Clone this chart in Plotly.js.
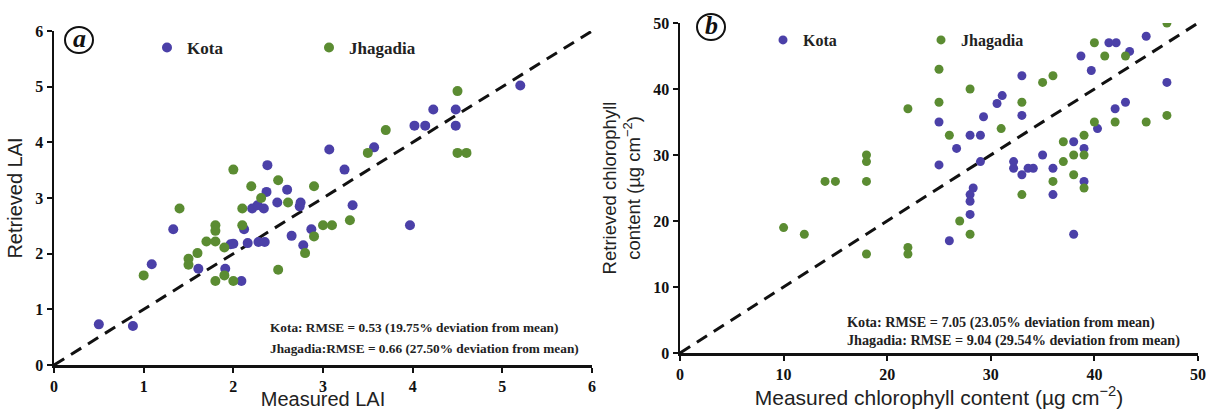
<!DOCTYPE html>
<html>
<head>
<meta charset="utf-8">
<script src="https://cdn.plot.ly/plotly-3.0.1.min.js"></script>
<style>html,body{margin:0;padding:0;background:#fff;}#chart{width:1210px;height:410px;}</style>
</head>
<body>
<div id="chart"></div>
<script>
// ---- Panel a: LAI (measured vs retrieved) ----
const kotaLaiMeasured = [0.50,0.88,1.09,1.33,1.61,1.91,1.97,2.00,2.09,2.12,2.16,2.21,2.27,2.28,2.34,2.35,2.37,2.38,2.49,2.60,2.65,2.74,2.75,2.78,2.87,3.07,3.24,3.33,3.57,3.97,4.02,4.14,4.23,4.48,4.48,5.20];
const kotaLaiRetrieved = [0.73,0.70,1.81,2.44,1.73,1.73,2.17,2.18,1.51,2.44,2.19,2.81,2.87,2.21,2.81,2.21,3.11,3.59,2.92,3.15,2.32,2.85,2.92,2.15,2.44,3.87,3.51,2.87,3.91,2.51,4.30,4.30,4.59,4.59,4.30,5.02];
const jhaLaiMeasured = [1.00,1.40,1.50,1.50,1.60,1.70,1.80,1.80,1.80,1.80,1.90,1.90,2.00,2.00,2.10,2.10,2.20,2.31,2.50,2.50,2.61,2.80,2.90,2.90,3.00,3.10,3.30,3.50,3.70,4.50,4.50,4.60];
const jhaLaiRetrieved = [1.61,2.81,1.91,1.80,2.01,2.22,2.51,2.41,2.22,1.51,2.11,1.61,3.51,1.51,2.81,2.51,3.21,3.00,3.32,1.71,2.92,2.01,3.21,2.31,2.51,2.51,2.60,3.81,4.22,4.92,3.81,3.81];
const oneToOneLai = [0, 6];
const laiTicks = [0,1,2,3,4,5,6];

// ---- Panel b: chlorophyll content ----
const kotaChlMeasured = [25,25,26,26.7,28,29,28.3,28,28,28,29,29.3,30.6,31.1,32.2,32.2,33,33,33,33.6,34.1,35,36,36,38,38,38.7,39,39,39.7,40.3,41.4,42.1,42,43,43.4,45,47];
const kotaChlRetrieved = [35,28.5,17,31,33,33,25,24,23,21,29,35.8,37.8,39,29,28,42,36,27,28,28,30,28,24,32,18,45,31,26,42.8,34,47,47,37,38,45.7,48,41];
const jhaChlMeasured = [10,12,14,15,18,18,18,18,22,22,22,25,25,26,27,28,28,31,33,33,35,36,36,37,37,38,38,39,39,39,40,40,41,42,43,45,47,47];
const jhaChlRetrieved = [19,18,26,26,30,29,26,15,37,16,15,43,38,33,20,40,18,34,38,24,41,42,26,32,29,30,27,33,30,25,47,35,45,35,45,35,50,36];
const oneToOneChl = [0, 50];
const chlTicks = [0,10,20,30,40,50];

const statsA = ["Kota: RMSE = 0.53 (19.75% deviation from mean)", "Jhagadia:RMSE = 0.66 (27.50% deviation from mean)"];
const statsB = ["Kota: RMSE = 7.05 (23.05% deviation from mean)", "Jhagadia: RMSE = 9.04 (29.54% deviation from mean)"];

const KOTA = '#4b40a8';
const JHA = '#5b8c32';
const W = 1210, H = 410;
const px = v => v / W;
const py = v => (H - v) / H;

const serif = 'Liberation Serif, Times New Roman, serif';
const sans = 'Liberation Sans, Arial, sans-serif';
const bold = a => a.map(v => '<b>' + v + '</b>');

const traces = [
  {x: oneToOneLai, y: oneToOneLai, mode: 'lines', line: {color: '#111', width: 3, dash: '12px,8px'}, showlegend: false, hoverinfo: 'skip', xaxis: 'x', yaxis: 'y'},
  {x: kotaLaiMeasured, y: kotaLaiRetrieved, mode: 'markers', name: 'Kota', marker: {color: KOTA, size: 10}, xaxis: 'x', yaxis: 'y', legend: 'legend'},
  {x: jhaLaiMeasured, y: jhaLaiRetrieved, mode: 'markers', name: 'Jhagadia', marker: {color: JHA, size: 10}, xaxis: 'x', yaxis: 'y', legend: 'legend'},
  {x: oneToOneChl, y: oneToOneChl, mode: 'lines', line: {color: '#111', width: 3, dash: '12px,8px'}, showlegend: false, hoverinfo: 'skip', xaxis: 'x2', yaxis: 'y2'},
  {x: kotaChlMeasured, y: kotaChlRetrieved, mode: 'markers', name: 'Kota', marker: {color: KOTA, size: 9}, xaxis: 'x2', yaxis: 'y2', legend: 'legend2'},
  {x: jhaChlMeasured, y: jhaChlRetrieved, mode: 'markers', name: 'Jhagadia', marker: {color: JHA, size: 9}, xaxis: 'x2', yaxis: 'y2', legend: 'legend2'}
];

const axisBase = {
  showline: true, linecolor: '#111', linewidth: 2.5, mirror: false,
  showgrid: false, zeroline: false, ticks: 'outside', ticklen: 5, tickwidth: 2, tickcolor: '#111',
  tickfont: {family: serif, size: 16, color: '#111'}
};

const layout = {
  width: W, height: H,
  margin: {l: 0, r: 0, t: 0, b: 0},
  paper_bgcolor: '#fff', plot_bgcolor: '#fff',
  xaxis: Object.assign({}, axisBase, {domain: [px(54), px(592)], range: [0, 6], tickvals: laiTicks, ticktext: bold(laiTicks), anchor: 'y',
    title: {text: 'Measured LAI', font: {family: sans, size: 20, color: '#222'}, standoff: 4}}),
  yaxis: Object.assign({}, axisBase, {domain: [py(365), py(31)], range: [0, 6], tickvals: laiTicks, ticktext: bold(laiTicks), anchor: 'x',
    title: {text: 'Retrieved LAI', font: {family: sans, size: 20, color: '#222'}, standoff: 8}}),
  xaxis2: Object.assign({}, axisBase, {domain: [px(680), px(1198)], range: [0, 50], tickvals: chlTicks, ticktext: bold(chlTicks), anchor: 'y2',
    title: {text: 'Measured chlorophyll content (µg cm<sup>−2</sup>)', font: {family: sans, size: 21, color: '#222'}, standoff: 8}}),
  yaxis2: Object.assign({}, axisBase, {domain: [py(353), py(23)], range: [0, 50], tickvals: chlTicks, ticktext: bold(chlTicks), anchor: 'x2',
    title: {text: 'Retrieved chlorophyll<br>content (µg cm<sup>−2</sup>)', font: {family: sans, size: 18.5, color: '#222'}, standoff: 8}}),
  legend: {x: px(147), y: py(30), xanchor: 'left', yanchor: 'top', orientation: 'h', bgcolor: 'rgba(0,0,0,0)',
    entrywidth: 117, itemwidth: 30, font: {family: serif, size: 17, color: '#222', weight: 'bold'}},
  legend2: {x: px(763), y: py(23), xanchor: 'left', yanchor: 'top', orientation: 'h', bgcolor: 'rgba(0,0,0,0)',
    entrywidth: 113, itemwidth: 30, font: {family: serif, size: 16, color: '#222', weight: 'bold'}},
  shapes: [
    {type: 'circle', xref: 'paper', yref: 'paper', xsizemode: 'pixel', ysizemode: 'pixel',
     xanchor: px(79), yanchor: py(40), x0: -14, x1: 14, y0: -13, y1: 13, line: {color: '#111', width: 2}},
    {type: 'circle', xref: 'paper', yref: 'paper', xsizemode: 'pixel', ysizemode: 'pixel',
     xanchor: px(711), yanchor: py(27), x0: -14, x1: 14, y0: -13, y1: 13, line: {color: '#111', width: 2}}
  ],
  annotations: [
    {text: '<b><i>a</i></b>', xref: 'paper', yref: 'paper', x: px(79), y: py(39), xanchor: 'center', yanchor: 'middle', showarrow: false, font: {family: serif, size: 26, color: '#111'}},
    {text: '<b><i>b</i></b>', xref: 'paper', yref: 'paper', x: px(711), y: py(26), xanchor: 'center', yanchor: 'middle', showarrow: false, font: {family: serif, size: 26, color: '#111'}},
    {text: statsA[0], xref: 'paper', yref: 'paper', x: px(268), y: py(327), xanchor: 'left', yanchor: 'middle', showarrow: false, font: {family: serif, size: 13.3, color: '#222', weight: 'bold'}},
    {text: statsA[1], xref: 'paper', yref: 'paper', x: px(268), y: py(348), xanchor: 'left', yanchor: 'middle', showarrow: false, font: {family: serif, size: 13.3, color: '#222', weight: 'bold'}},
    {text: statsB[0], xref: 'paper', yref: 'paper', x: px(845), y: py(322), xanchor: 'left', yanchor: 'middle', showarrow: false, font: {family: serif, size: 14.2, color: '#222', weight: 'bold'}},
    {text: statsB[1], xref: 'paper', yref: 'paper', x: px(845), y: py(340), xanchor: 'left', yanchor: 'middle', showarrow: false, font: {family: serif, size: 14.2, color: '#222', weight: 'bold'}}
  ]
};

Plotly.newPlot('chart', traces, layout, {staticPlot: true, displayModeBar: false});
</script>
</body>
</html>
